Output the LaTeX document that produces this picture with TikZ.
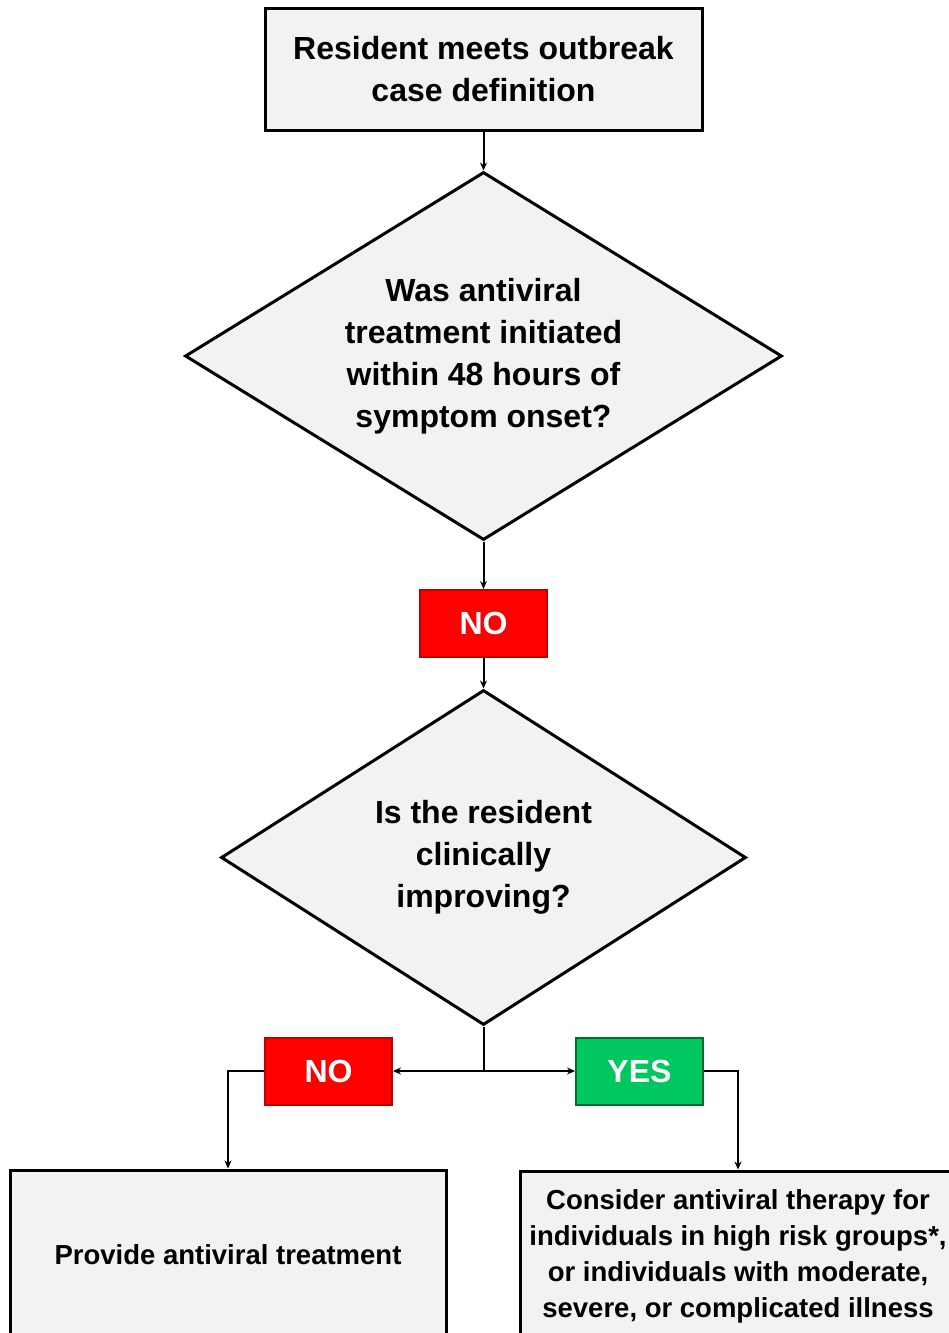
\documentclass[tikz,border=0pt]{standalone}
\usepackage{fontspec}
\setmainfont{Liberation Sans}
\usetikzlibrary{shapes.geometric,arrows.meta}
\definecolor{boxgray}{RGB}{242,242,242}
\definecolor{noRed}{RGB}{255,0,0}
\definecolor{noRedDark}{RGB}{190,0,0}
\definecolor{yesGreen}{RGB}{0,200,95}
\definecolor{yesGreenDark}{RGB}{0,110,40}
\begin{document}
\begin{tikzpicture}[x=1pt,y=-1pt,>={Stealth[length=8pt,width=7pt]},
  bigtext/.style={font=\bfseries\fontsize{32}{42}\selectfont},
  smalltext/.style={font=\bfseries\fontsize{27.5}{36}\selectfont},
  stepbox/.style={draw=black,line width=3pt,fill=boxgray,align=center,inner sep=0pt},
  question/.style={diamond,draw=black,line width=3pt,fill=boxgray,align=center,inner sep=0pt,bigtext},
  answer/.style={line width=2pt,minimum width=127,minimum height=67,inner sep=0pt,text=white,bigtext},
  link/.style={line width=2pt}]
  \useasboundingbox (0,0) rectangle (948,1333);
  \node[stepbox,bigtext,minimum width=437,minimum height=122] (start) at (483.5,69) {Resident meets outbreak\\case definition};
  \node[question,aspect=1.62,minimum width=597,minimum height=368] (q1) at (483.5,356) {Was antiviral\\treatment initiated\\within 48 hours of\\symptom onset?};
  \node[answer,fill=noRed,draw=noRedDark] (no1) at (483.5,623.5) {NO};
  \node[question,aspect=1.57,minimum width=525,minimum height=335] (q2) at (483.5,857.5) {Is the resident\\clinically\\improving?};
  \node[answer,fill=noRed,draw=noRedDark] (no2) at (328.5,1071) {NO};
  \node[answer,fill=yesGreen,draw=yesGreenDark] (yes) at (639.5,1071) {YES};
  \node[stepbox,smalltext,minimum width=436,minimum height=170] (treat) at (228,1255) {Provide antiviral treatment};
  \node[stepbox,smalltext,minimum width=436,minimum height=170] (consider) at (738,1256) {Consider antiviral therapy for\\individuals in high risk groups*,\\or individuals with moderate,\\severe, or complicated illness};
  \coordinate (split) at (483.5,1071);
  \draw[->,link] (start) -- (q1);
  \draw[->,link] (q1) -- (no1);
  \draw[->,link] (no1) -- (q2);
  \draw[link] (q2.south) -- (split);
  \draw[->,link] (split) -- (no2);
  \draw[->,link] (split) -- (yes);
  \draw[->,link] (no2.west) -| (treat.north);
  \draw[->,link] (yes.east) -| (consider.north);
\end{tikzpicture}
\end{document}
